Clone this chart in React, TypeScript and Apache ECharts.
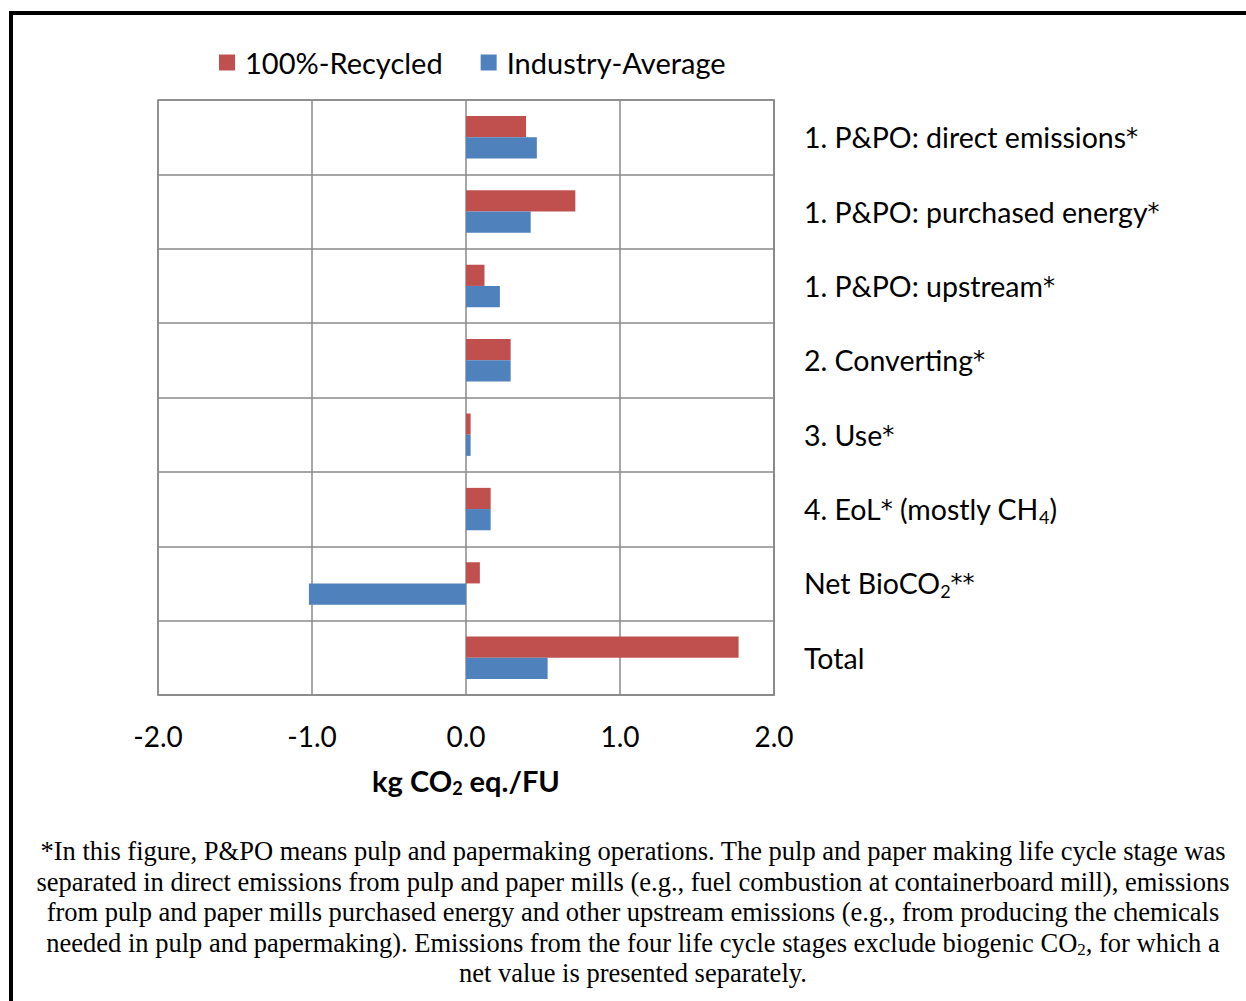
import React, { useEffect, useRef } from "react";
import * as echarts from "echarts";

const categories = [
  "1. P&PO: direct emissions*",
  "1. P&PO: purchased energy*",
  "1. P&PO: upstream*",
  "2. Converting*",
  "3. Use*",
  "4. EoL* (mostly CH4)",
  "Net BioCO2**",
  "Total",
];
const recycled = [0.39, 0.71, 0.12, 0.29, 0.03, 0.16, 0.09, 1.77];
const industryAverage = [0.46, 0.42, 0.22, 0.29, 0.03, 0.16, -1.02, 0.53];
const seriesNames = ["100%-Recycled", "Industry-Average"];
const xTicks = { min: -2, max: 2, interval: 1 };
const axisTitle = "kg CO{sub|2} eq./FU";
const footnoteLines = [
  "*In this figure, P&PO means pulp and papermaking operations. The pulp and paper making life cycle stage was",
  "separated in direct emissions from pulp and paper mills (e.g., fuel combustion at containerboard mill), emissions",
  "from pulp and paper mills purchased energy and other upstream emissions (e.g., from producing the chemicals",
  "needed in pulp and papermaking). Emissions from the four life cycle stages exclude biogenic CO{sub|2}, for which a",
  "net value is presented separately.",
];

const FONT = "Lato";
const GRID_COLOR = "#8a8a8a";

function subify(s: string): string {
  return s
    .replace("CO2", "CO{sub|2}")
    .replace("CH4", "CH{sub|4}")
    .replace(/\*/g, "{ast|*}");
}

export default function App() {
  const ref = useRef<HTMLDivElement>(null);
  useEffect(() => {
    if (!ref.current) return;
    const chart = echarts.init(ref.current, null, { renderer: "svg" });
    const subStyle = {
      fontFamily: FONT,
      fontSize: 18,
      verticalAlign: "bottom",
      lineHeight: 34,
    };
    chart.setOption({
      animation: false,
      backgroundColor: "#ffffff",
      color: ["#C0504D", "#4F81BD"],
      legend: {
        top: 43,
        left: 214,
        itemWidth: 16,
        itemHeight: 16,
        itemGap: 38,
        icon: "rect",
        data: seriesNames,
        textStyle: {
          fontFamily: FONT,
          fontSize: 29,
          color: "#000",
          padding: [0, 0, 0, 5],
        },
      },
      grid: {
        left: 158,
        right: 1246 - 774,
        top: 100,
        bottom: 1001 - 695,
        show: true,
        borderColor: GRID_COLOR,
        borderWidth: 1.5,
        containLabel: false,
      },
      xAxis: {
        type: "value",
        min: xTicks.min,
        max: xTicks.max,
        interval: xTicks.interval,
        axisLine: { show: true, lineStyle: { color: GRID_COLOR, width: 1.5 } },
        axisTick: { show: false },
        splitLine: { show: true, lineStyle: { color: GRID_COLOR, width: 1.5 } },
        axisLabel: {
          formatter: (v: number) => v.toFixed(1),
          fontFamily: FONT,
          fontSize: 28,
          color: "#000",
          margin: 27,
        },
        name: axisTitle,
        nameLocation: "middle",
        nameGap: 68,
        nameTextStyle: {
          fontFamily: FONT,
          fontSize: 29,
          fontWeight: "bold",
          color: "#000",
          rich: {
            sub: { ...subStyle, fontWeight: "bold" },
          },
        },
      },
      yAxis: {
        type: "category",
        data: categories,
        inverse: true,
        position: "right",
        axisLine: { show: true, onZero: false, lineStyle: { color: GRID_COLOR, width: 1.5 } },
        axisTick: { show: false },
        splitLine: { show: true, lineStyle: { color: GRID_COLOR, width: 1.5 } },
        axisLabel: {
          formatter: (v: string) => subify(v),
          fontFamily: FONT,
          fontSize: 28.5,
          color: "#000",
          margin: 30,
          rich: {
            sub: subStyle,
            ast: { fontFamily: "DejaVu Sans", fontSize: 24, verticalAlign: "middle" },
          },
        },
      },
      series: [
        {
          name: seriesNames[0],
          type: "bar",
          data: recycled,
          barGap: "0%",
          barCategoryGap: "43%",
        },
        {
          name: seriesNames[1],
          type: "bar",
          data: industryAverage,
          barGap: "0%",
          barCategoryGap: "43%",
        },
      ],
      graphic: [
        {
          type: "line",
          shape: { x1: 9, y1: 13, x2: 1246, y2: 13 },
          style: { stroke: "#000", lineWidth: 4 },
        },
        {
          type: "line",
          shape: { x1: 11, y1: 11, x2: 11, y2: 1001 },
          style: { stroke: "#000", lineWidth: 4 },
        },
        {
          type: "text",
          x: 633,
          y: 836,
          style: {
            text: footnoteLines.join("\n"),
            fontFamily: "Liberation Serif",
            fontSize: 26.5,
            lineHeight: 30.5,
            align: "center",
            verticalAlign: "top",
            fill: "#000",
            rich: {
              sub: {
                fontFamily: "Liberation Serif",
                fontSize: 17,
                verticalAlign: "bottom",
                lineHeight: 30.5,
              },
            },
          },
        },
      ],
    });
    return () => chart.dispose();
  }, []);
  return (
    <div
      ref={ref}
      style={{ position: "absolute", left: 0, top: 0, width: 1246, height: 1001 }}
    />
  );
}
